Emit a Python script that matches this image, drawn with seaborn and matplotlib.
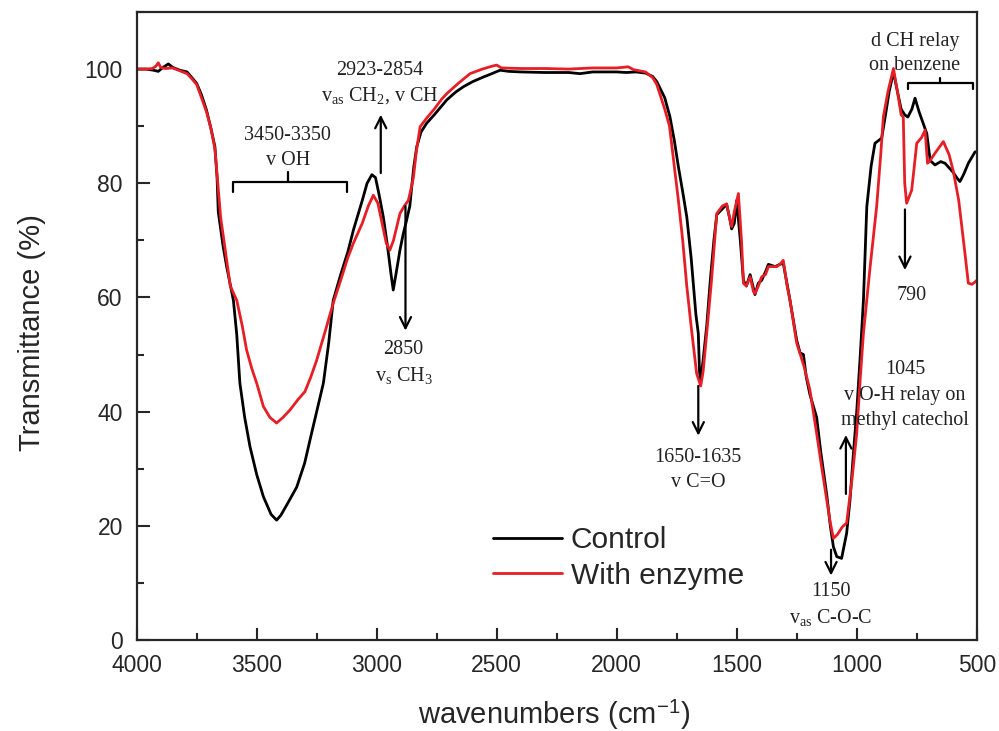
import pandas as pd
import matplotlib
matplotlib.use("Agg")
import matplotlib.pyplot as plt
import seaborn as sns
from matplotlib.ticker import MultipleLocator

# === DATA ===
control_wn = [4000, 3960, 3930, 3910, 3890, 3868, 3850, 3820, 3790, 3770, 3750, 3730, 3709, 3690, 3674,
              3665, 3660, 3650, 3640, 3625, 3597, 3583, 3570, 3550, 3528, 3500, 3472, 3440, 3417, 3400,
              3370, 3333, 3300, 3278, 3250, 3222, 3200, 3181, 3150, 3120, 3097, 3060, 3040, 3020, 3005,
              2990, 2972, 2955, 2940, 2931, 2920, 2903, 2890, 2875, 2862, 2854, 2845, 2833, 2815, 2792,
              2760, 2730, 2708, 2670, 2639, 2600, 2556, 2520, 2486, 2450, 2400, 2300, 2200, 2153, 2100,
              2000, 1960, 1920, 1880, 1850, 1833, 1800, 1778, 1760, 1743, 1725, 1708, 1690, 1681, 1670,
              1660, 1655, 1650, 1640, 1625, 1610, 1595, 1583, 1560, 1542, 1530, 1521, 1510, 1500, 1485,
              1472, 1460, 1444, 1424, 1410, 1396, 1380, 1368, 1340, 1320, 1306, 1280, 1250, 1236, 1222,
              1210, 1195, 1167, 1150, 1125, 1110, 1097, 1083, 1063, 1050, 1042, 1028, 1015, 1000, 985,
              972, 958, 940, 924, 896, 880, 865, 847, 835, 815, 800, 787, 770, 757, 740,
              708, 694, 674, 650, 632, 600, 580, 570, 555, 535, 507, 500]
control_t = [100, 100, 99.8, 99.6, 100.3, 100.9, 100.3, 99.8, 99.5, 98.5, 97.5, 95.5, 92.8, 89.5, 86.4,
             81, 75, 72, 69, 65.4, 59.5, 53.5, 45, 39, 33.9, 29, 25.1, 22, 21, 21.8,
             24, 26.8, 31, 35, 40, 45, 52, 59.5, 64, 68, 71.8, 77, 80, 81.5, 81,
             78, 74, 69, 64, 61.3, 64, 68.3, 71, 73.6, 76, 79.4, 83, 86.4, 89, 90.5,
             92, 93.5, 94.6, 96, 96.9, 97.8, 98.6, 99.2, 99.8, 99.6, 99.5, 99.4, 99.4, 99.2, 99.5,
             99.5, 99.4, 99.5, 99.3, 98.7, 97.8, 95, 91.6, 87.5, 82.9, 78.5, 74.1, 67, 62.5, 57,
             53.7, 47, 45.5, 49, 55, 63, 70, 74.5, 75.5, 76.3, 74, 72, 73, 77, 70,
             63, 62, 64, 60.5, 62.5, 63, 64.5, 65.8, 65.4, 65.8, 66, 60, 52.5, 50.3, 50,
             46, 43, 39, 33, 25.5, 20, 16.3, 14.6, 14.3, 17, 18.7, 24.5, 32, 40, 50,
             59.5, 75.9, 83, 87, 87.9, 92, 96, 99.5, 97, 93, 92, 91.6, 93, 94.9, 92.5,
             88.7, 84, 83.2, 83.8, 83.5, 82, 80.8, 80.3, 81.5, 83.5, 85.5, 85.5]

enzyme_wn = [4000, 3960, 3935, 3920, 3910, 3900, 3880, 3850, 3820, 3790, 3770, 3750, 3730, 3709, 3690,
             3674, 3660, 3650, 3630, 3610, 3583, 3560, 3542, 3520, 3500, 3472, 3445, 3417, 3390, 3361,
             3330, 3299, 3275, 3250, 3215, 3181, 3150, 3120, 3097, 3060, 3035, 3014, 2995, 2975, 2960,
             2945, 2930, 2903, 2885, 2868, 2857, 2847, 2835, 2819, 2790, 2760, 2730, 2708, 2660, 2611,
             2560, 2520, 2500, 2480, 2400, 2300, 2200, 2100, 2000, 1952, 1930, 1880, 1850, 1833, 1800,
             1780, 1760, 1743, 1725, 1708, 1690, 1667, 1650, 1640, 1625, 1605, 1583, 1560, 1542, 1530,
             1521, 1510, 1493, 1480, 1472, 1460, 1444, 1430, 1424, 1410, 1396, 1380, 1368, 1350, 1333,
             1320, 1306, 1290, 1278, 1250, 1220, 1195, 1167, 1145, 1125, 1110, 1097, 1080, 1060, 1042,
             1020, 1000, 985, 972, 945, 917, 900, 889, 870, 847, 830, 815, 806, 800, 792,
             771, 760, 750, 730, 715, 705, 694, 670, 639, 615, 597, 575, 562, 549, 535,
             520, 507, 500]
enzyme_t = [100, 100, 100.1, 100.5, 101.1, 100.3, 100.1, 100.2, 99.7, 99.2, 98.3, 97.3, 95, 92.5, 89.5,
            86, 79, 74, 68, 62, 59.5, 55, 50.8, 47.5, 45, 40.9, 39, 38, 39, 40.3,
            42, 43.5, 46, 49, 54, 59, 63, 67, 69.5, 73, 76, 77.9, 76.5, 72.5, 69.5,
            68.3, 70, 74.7, 76, 77, 79, 81, 85.5, 89.9, 91.5, 93, 94.7, 95.7, 97.5, 99.2,
            100, 100.5, 100.7, 100.2, 100.1, 100.1, 100, 100.2, 100.2, 100.4, 99.9, 99.5, 98.5, 97.3, 93,
            90, 83, 77, 70, 62, 55, 46.7, 44.5, 47, 53.7, 63, 74.7, 76, 76.4, 74,
            72.4, 75, 78.2, 70, 62.5, 62, 63.6, 61, 60.7, 62, 63.6, 64, 65.4, 65.4, 65.4,
            65.8, 66.5, 62, 59.5, 52, 48, 43.8, 36.2, 30, 24.5, 20.5, 17.8, 18.5, 19.8, 20.5,
            28, 36.2, 46, 53.7, 65, 75.9, 85, 91.6, 96, 100.1, 96, 92, 91.6, 80, 76.5,
            78.8, 83, 87, 88, 89.3, 83.5, 84, 85.5, 87.3, 85, 82, 77, 72.4, 67.7, 62.5,
            62.3, 62.7, 63]

series_names = ["Control", "With enzyme"]
palette = {"Control": "#000000", "With enzyme": "#e61e25"}

df = pd.concat([
    pd.DataFrame({"wavenumber": control_wn, "T": control_t, "sample": "Control"}),
    pd.DataFrame({"wavenumber": enzyme_wn, "T": enzyme_t, "sample": "With enzyme"}),
], ignore_index=True)

# === STYLE ===
sns.set_style("ticks")
plt.rcParams["font.family"] = ["Liberation Sans", "DejaVu Sans"]
plt.rcParams["mathtext.fontset"] = "custom"
plt.rcParams["mathtext.rm"] = "Liberation Serif"
plt.rcParams["mathtext.it"] = "Liberation Serif:italic"
plt.rcParams["mathtext.sf"] = "Liberation Sans"

fig = plt.figure(figsize=(9.99, 7.31), dpi=100)
ax = fig.add_axes([0.1368, 0.1245, 0.8409, 0.8591])

sns.lineplot(data=df, x="wavenumber", y="T", hue="sample", hue_order=series_names,
             palette=palette, estimator=None, sort=False, linewidth=2.0, ax=ax)

ax.set_xlim(4000, 500)
ax.set_ylim(0, 110)
ax.xaxis.set_major_locator(MultipleLocator(500))
ax.xaxis.set_minor_locator(MultipleLocator(250))
ax.yaxis.set_minor_locator(MultipleLocator(10))
ax.set_yticks([0, 20, 40, 60, 80, 100])
ax.tick_params(axis="both", which="major", direction="in", length=9, width=1.5, labelsize=16.5, pad=10)
ax.tick_params(axis="both", which="minor", direction="in", length=5, width=1.5)
ax.tick_params(top=False, right=False, which="both")
for s in ax.spines.values():
    s.set_linewidth(1.6)

ax.set_xlabel("wavenumbers (cm$^{\\mathsf{-1}}$)", fontsize=21)
ax.set_ylabel("Transmittance (%)", fontsize=21)
ax.xaxis.set_label_coords(0.497, -0.092)
ax.yaxis.set_label_coords(-0.108, 0.49)

leg = ax.legend(loc="upper left", bbox_to_anchor=(0.41, 0.2), frameon=False, fontsize=21.5,
                handlelength=2.3, handletextpad=0.3, labelspacing=0.25, borderaxespad=0)
for line in leg.get_lines():
    line.set_linewidth(2.0)

# === ANNOTATIONS ===
serif = dict(family="Liberation Serif", fontsize=14.5, ha="center", va="center", color="#222222")
arrow = dict(arrowstyle="->", color="black", lw=1.6, mutation_scale=20)

ax.text(3370, 88.3, "3450-3350", **serif)
ax.text(3370, 84.0, "v OH", **serif)
ax.plot([3600, 3600, 3125, 3125], [78.5, 80.2, 80.2, 78.5], color="black", lw=1.6)
ax.plot([3370, 3370], [80.2, 82.0], color="black", lw=1.6)

ax.text(2986, 99.8, "2923-2854", **serif)
ax.text(2986, 95.3, "v$_\\mathrm{as}$ CH$_\\mathrm{2}$, v CH", **serif)
ax.annotate("", xy=(2983, 92.5), xytext=(2983, 81.3), arrowprops=arrow)

ax.annotate("", xy=(2880, 53.7), xytext=(2880, 76.5), arrowprops=arrow)
ax.text(2888, 50.8, "2850", **serif)
ax.text(2888, 46.4, "v$_\\mathrm{s}$ CH$_\\mathrm{3}$", **serif)

ax.annotate("", xy=(1660, 35.3), xytext=(1660, 45.0), arrowprops=arrow)
ax.text(1660, 31.9, "1650-1635", **serif)
ax.text(1660, 27.5, "v C=O", **serif)

ax.annotate("", xy=(1107, 10.8), xytext=(1107, 16.3), arrowprops=arrow)
ax.text(1107, 8.5, "1150", **serif)
ax.text(1107, 4.0, "v$_\\mathrm{as}$ C-O-C", **serif)

ax.annotate("", xy=(1045, 36.4), xytext=(1045, 25.1), arrowprops=arrow)
ax.text(799, 47.3, "1045", **serif)
ax.text(799, 42.9, "v O-H relay on", **serif)
ax.text(799, 38.5, "methyl catechol", **serif)

ax.text(757, 104.8, "d CH relay", **serif)
ax.text(757, 100.7, "on benzene", **serif)
ax.plot([787, 787, 517, 517], [96.5, 97.5, 97.5, 96.5], color="black", lw=1.6)
ax.plot([652, 652], [97.5, 98.4], color="black", lw=1.6)

ax.annotate("", xy=(799, 64.3), xytext=(799, 75.9), arrowprops=arrow)
ax.text(772, 60.4, "790", **serif)

fig.savefig("out.png", dpi=100)
